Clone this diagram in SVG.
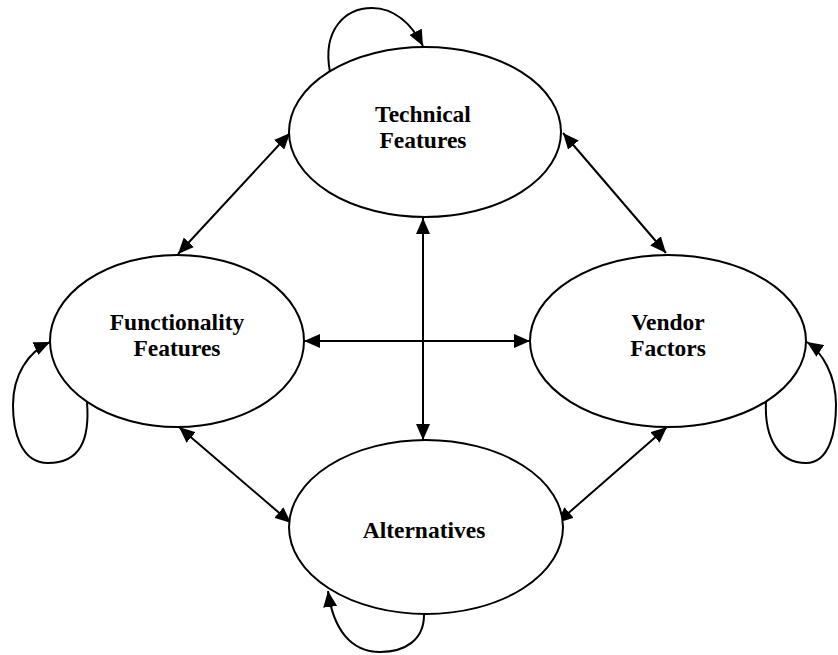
<svg xmlns="http://www.w3.org/2000/svg" width="838" height="655" viewBox="0 0 838 655">
  <style>
    .node ellipse { fill: #fff; stroke: #000; stroke-width: 2; }
    .node text { font-family: "Liberation Serif", "Times New Roman", serif; font-size: 23.5px; font-weight: bold; fill: #000; text-anchor: middle; }
    .edge { fill: none; stroke: #000; stroke-width: 2; }
    .both { marker-start: url(#head); marker-end: url(#head); }
    .loop { marker-end: url(#head); }
  </style>
  <defs>
    <marker id="head" viewBox="0 0 16 14" refX="16" refY="7" markerWidth="16" markerHeight="14" markerUnits="userSpaceOnUse" orient="auto-start-reverse">
      <path d="M0,0 L16,7 L0,14 Z" fill="#000"/>
    </marker>
  </defs>

  <rect width="838" height="655" fill="#fff"/>

  <g id="connectors">
    <!-- straight two-way links -->
    <line class="edge both" x1="423" y1="218" x2="423" y2="440"/>
    <line class="edge both" x1="304" y1="341" x2="530" y2="341"/>
    <line class="edge both" x1="290" y1="133" x2="178" y2="254"/>
    <line class="edge both" x1="563" y1="133" x2="666" y2="253"/>
    <line class="edge both" x1="179" y1="427" x2="291" y2="523"/>
    <line class="edge both" x1="667" y1="427" x2="557" y2="523"/>
    <!-- self loops -->
    <path class="edge loop" d="M330,72 C322,30 345,8 372,8 C395,8 412,25 423,46"/>
    <path class="edge loop" d="M87,402 C90,440 80,463 48,463 C20,463 13,430 13,405 C13,375 28,352 50,342"/>
    <path class="edge loop" d="M766,401 C764,440 780,463 806,463 C830,463 836,430 836,405 C836,375 822,352 807,342"/>
    <path class="edge loop" d="M424,615 C424,640 405,652 380,652 C350,652 333,628 328,591"/>
  </g>

  <g id="technical" class="node">
    <ellipse cx="425" cy="132" rx="136" ry="85"/>
    <text x="423" y="122">Technical</text>
    <text x="423" y="148">Features</text>
  </g>

  <g id="functionality" class="node">
    <ellipse cx="177" cy="341" rx="127" ry="86"/>
    <text x="177" y="330">Functionality</text>
    <text x="177" y="356">Features</text>
  </g>

  <g id="vendor" class="node">
    <ellipse cx="668" cy="341" rx="138" ry="86"/>
    <text x="668" y="330">Vendor</text>
    <text x="668" y="356">Factors</text>
  </g>

  <g id="alternatives" class="node">
    <ellipse cx="426" cy="527" rx="137" ry="87"/>
    <text x="424" y="538">Alternatives</text>
  </g>
</svg>
